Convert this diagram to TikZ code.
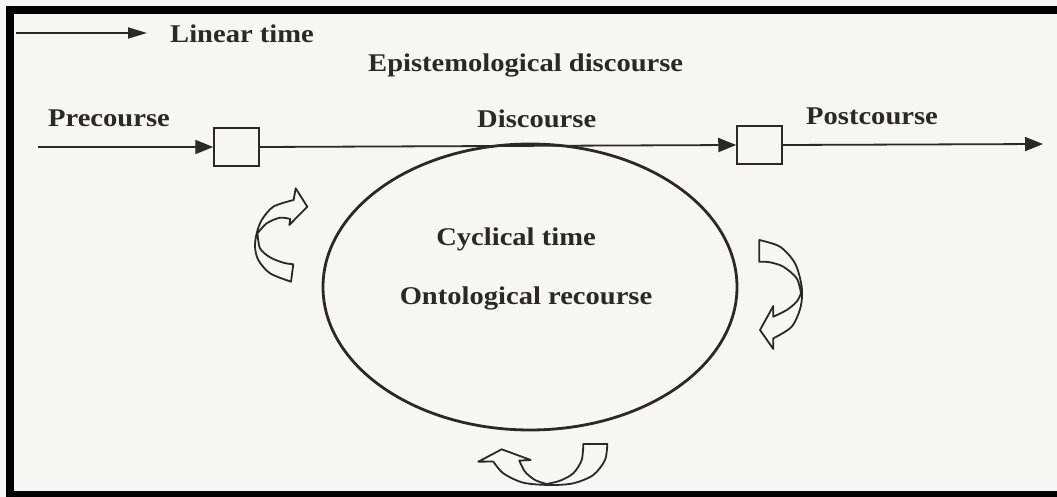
\documentclass[tikz,border=0pt]{standalone}
\usepackage{fontspec}
\setmainfont{Liberation Serif}[FakeStretch=1.12]
\usetikzlibrary{arrows.meta,shapes.geometric}
\definecolor{ink}{RGB}{45,40,40}
\definecolor{paper}{RGB}{246,246,244}
\begin{document}
\begin{tikzpicture}[x=1pt,y=-1pt,
  lbl/.style={font=\fontsize{25.5}{30}\selectfont\bfseries, text=ink, inner sep=0pt},
  gate/.style={draw=ink, line width=1.5pt, fill=paper, minimum width=45pt, minimum height=38pt, inner sep=0pt},
  flow/.style={draw=ink, line width=1.8pt, -{Triangle[length=18pt,width=14pt]}},
  twist/.style={draw=ink, line width=1.8pt, fill=paper, line join=round}]
\useasboundingbox (0,0) rectangle (1057,497);
\fill[paper] (0,0) rectangle (1057,497);
% black frame
\fill[black] (6,6) rectangle (1057,14);
\fill[black] (6,6) rectangle (14,497);
\fill[black] (6,491) rectangle (1057,497);

% legend
\coordinate (ls) at (16,33);
\coordinate (le) at (147,33);
\draw[flow, -{Triangle[length=19pt,width=11pt]}] (ls) -- (le);
\node[lbl, anchor=base west] (lt) at (170,43) {Linear time};

% headings
\node[lbl, anchor=base west] (epi) at (368,72) {Epistemological discourse};
\node[lbl, anchor=base west] (pre) at (48,127) {Precourse};
\node[lbl, anchor=base west] (dis) at (477,128) {Discourse};
\node[lbl, anchor=base west] (post) at (806,125) {Postcourse};

% linear time line
\node[gate] (g1) at (236.5,147) {};
\node[gate] (g2) at (759.5,145) {};
\coordinate (start) at (38,147);
\coordinate (end) at (1043,144);
\draw[flow] (start) -- (g1.west);
\draw[flow] (g1.east) -- (g2.west);
\draw[flow] (g2.east) -- (end);

% cyclical time
\node[draw=ink, line width=2.8pt, ellipse, minimum width=414pt, minimum height=286pt, inner sep=0pt] (cyc) at (530,287) {};
\node[lbl, anchor=base] (ct) at (516,245) {Cyclical time};
\node[lbl, anchor=base] (onto) at (526,304) {Ontological recourse};

% curved arrows around the ellipse
\draw[twist] (293.3,264.3) -- (291,281.7)
  -- plot[smooth] coordinates {(291,281.7) (270,273.3) (258.3,260) (255,246.7) (256.7,233.3) (261.7,220) (273.3,206.7) (293.6,200)}
  -- (295.7,188.3) -- (307.3,206.7) -- (289.3,225) -- (290.3,219)
  -- plot[smooth] coordinates {(290.3,219) (280,217.7) (266.7,223.3) (257.5,233.3)}
  -- plot[smooth] coordinates {(257.5,233.3) (260,248.3) (270,257.3) (283.3,262.7) (293.3,264.3)}
  -- cycle;

\draw[twist] (759.3,240)
  -- plot[smooth] coordinates {(759.3,240) (780,246.7) (795,263.3) (801.7,286.7) (800.7,306.7) (791.7,326.7) (773.3,338.3)}
  -- (773.3,349) -- (760,330) -- (773.3,306) -- (773.3,316.7)
  -- plot[smooth] coordinates {(773.3,316.7) (786.7,310) (796.7,301.7) (801,293.3)}
  -- plot[smooth] coordinates {(801,293.3) (796.7,278.3) (783.3,266.7) (770,262.3) (759.3,261.7)}
  -- cycle;

\draw[twist] (583.3,444) -- (607.3,444)
  -- plot[smooth] coordinates {(607.3,444) (605,460) (593.3,475) (573.3,483.3) (550,485) (523.3,482.7) (503.3,473.3) (493.3,461.5)}
  -- (478.3,461.7) -- (501.7,449.3) -- (530.7,460) -- (519.3,460.6)
  -- plot[smooth] coordinates {(519.3,460.6) (525,471.7) (535,480) (546.7,484)}
  -- plot[smooth] coordinates {(546.7,484) (560,480.7) (573.3,473.3) (581.7,460) (583.3,444)}
  -- cycle;
\end{tikzpicture}
\end{document}
